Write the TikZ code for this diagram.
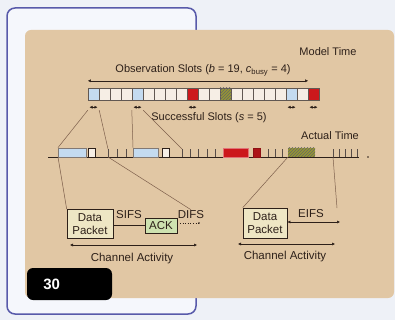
\documentclass[tikz,border=0pt]{standalone}
\usepackage{fontspec}
\setmainfont{Liberation Sans}
\usetikzlibrary{positioning, arrows.meta, patterns}
\definecolor{PageBg}{RGB}{238, 241, 247}
\definecolor{FrameBlue}{RGB}{88, 90, 170}
\definecolor{FrameBg}{RGB}{245, 247, 252}
\definecolor{PanelTan}{RGB}{225, 199, 164}
\definecolor{InkBrown}{RGB}{45, 32, 25}
\definecolor{LineBrown}{RGB}{125, 95, 75}
\definecolor{okBlue}{RGB}{196, 219, 240}
\definecolor{idleWhite}{RGB}{246, 238, 229}
\definecolor{busyRed}{RGB}{204, 24, 28}
\definecolor{errOlive}{RGB}{150, 150, 50}
\definecolor{pktCream}{RGB}{238, 230, 196}
\definecolor{ackGreen}{RGB}{206, 226, 176}

\begin{document}
\begin{tikzpicture}[
    % 1 unit = 1 px of the 395x320 layout, y runs downwards
    x=1pt, y=-1pt,
    slot/.style={draw=InkBrown!75, line width=0.4pt, inner sep=0pt,
                 minimum width=11pt, minimum height=12pt},
    okslot/.style={fill=okBlue},
    idleslot/.style={fill=idleWhite},
    busyslot/.style={fill=busyRed},
    errslot/.style={fill=errOlive,
                    postaction={pattern=north east lines, pattern color=black!60}},
    seg/.style={anchor=south west, inner sep=0pt, minimum height=9pt,
                line width=0.4pt},
    lbl/.style={font=\fontsize{11}{13}\selectfont, text=InkBrown, inner sep=1pt},
    boxlbl/.style={font=\fontsize{11.5}{13}\selectfont, text=InkBrown, inner sep=1pt},
    pkt/.style={draw=InkBrown, line width=0.6pt, fill=pktCream, inner sep=0pt,
                minimum width=46pt, minimum height=29pt, align=center,
                font=\fontsize{11.5}{12.5}\selectfont, text=InkBrown},
    proj/.style={LineBrown, line width=0.5pt},
    dimarr/.style={{Latex[length=3pt,width=3pt]}-{Latex[length=3pt,width=3pt]},
                   InkBrown, line width=0.5pt},
    tickmark/.style={InkBrown!80, line width=0.5pt}
  ]
  \useasboundingbox (0,0) rectangle (395,320);

  % ── Page, blue frame and tan panel ───────────────────────────────────────
  \fill[PageBg] (0,0) rectangle (395,320);
  \draw[FrameBlue, line width=1.5pt, fill=FrameBg, rounded corners=8pt]
        (7,8) rectangle (196,314);
  \fill[PanelTan, rounded corners=6pt] (25,30) rectangle (394,298);

  % ── Model time: observation slots ────────────────────────────────────────
  \node[lbl] (model) at (328, 52) {Model Time};
  \node[lbl] (obs)   at (203, 70)
        {Observation Slots (\textit{b} = 19, \textit{c}\textsubscript{busy} = 4)};

  \foreach \st [count=\i] in {okslot,idleslot,idleslot,idleslot,okslot,
                              idleslot,idleslot,idleslot,idleslot,busyslot,
                              idleslot,idleslot,errslot,idleslot,idleslot,
                              idleslot,idleslot,idleslot,okslot,idleslot,busyslot}
    \node[slot, \st] (c\i) at ({82.5+11*\i}, 94) {};

  \draw[dimarr] ([yshift=7pt]c1.north west) -- ([yshift=7pt]c20.north east);

  % small markers under the successful slots
  \foreach \k in {1,5,10,19,21}
    \draw[dimarr, line width=0.4pt]
          ([xshift=-4pt,yshift=-7pt]c\k.south) -- ([xshift=4pt,yshift=-7pt]c\k.south);

  \node[lbl] (succ) at (209, 118) {Successful Slots (\textit{s} = 5)};

  % ── Actual time line ─────────────────────────────────────────────────────
  \node[lbl] (actual) at (330, 136) {Actual Time};

  \coordinate (t0) at (48, 157);
  \coordinate (t1) at (359, 157);
  \draw[InkBrown, line width=0.6pt] (t0) -- (t1);
  \fill[InkBrown] (368, 157) circle (0.9);

  \node[seg, draw=InkBrown!60, fill=okBlue, minimum width=28pt] (tx1)  at ( 58, 157) {};
  \node[seg, draw=InkBrown, fill=idleWhite, minimum width=7pt]  (ack1) at ( 88, 157) {};
  \node[seg, draw=InkBrown!60, fill=okBlue, minimum width=25pt] (tx2)  at (133, 157) {};
  \node[seg, draw=InkBrown, fill=idleWhite, minimum width=7pt]  (ack2) at (162, 157) {};
  \node[seg, draw=busyRed!60, fill=busyRed, minimum width=25pt] (col1) at (223, 157) {};
  \node[seg, draw=busyRed!70!black, fill=busyRed!85!black, minimum width=7pt] (col2) at (253, 157) {};
  \node[seg, errslot, minimum width=27pt]                       (err)  at (288, 157) {};

  \foreach \x in {108,117,126,182,190,198,207,215,268,275,282,333,339,345,351,357}
    \draw[tickmark] (\x, 157) -- (\x, 149);

  \coordinate (difs1) at (108, 149);
  \coordinate (difs2) at (182, 149);
  \coordinate (difsEnd) at (108, 157);
  \coordinate (eifsEnd) at (333, 157);

  % projections model -> actual
  \draw[proj] ([yshift=-10pt]c1.south west) -- (tx1.north west);
  \draw[proj] ([yshift=-10pt]c1.south east) -- (difs1);
  \draw[proj] ([yshift=-10pt]c5.south west) -- (tx2.north west);
  \draw[proj] ([yshift=-10pt]c5.south east) -- (difs2);

  % ── Channel activity: successful transmission ────────────────────────────
  \node[pkt] (dp1) at (90, 224) {Data\\Packet};
  \node[pkt, fill=ackGreen, minimum width=32pt, minimum height=15pt] (ack) at (161, 225.5) {ACK};
  \node[boxlbl] (sifs) at (129, 215) {SIFS};
  \node[boxlbl] (difs) at (191, 215) {DIFS};

  \draw[InkBrown, line width=0.5pt] (dp1.east |- ack.west) -- (ack.west);
  \coordinate (difsTip) at (199, 223);
  \draw[InkBrown, line width=0.6pt, dotted] (ack.east |- difsTip) -- (difsTip);
  \fill[InkBrown] (difsTip) circle (0.9);

  \coordinate (caL1) at (70, 245);
  \coordinate (caR1) at (197, 245);
  \draw[dimarr] (caL1) -- (caR1);
  \node[boxlbl] (ca1) at (132, 259) {Channel Activity};

  \draw[proj] (tx1.south west) -- (dp1.north west);
  \draw[proj] (difsEnd) -- (difs.north);

  % ── Channel activity: erroneous transmission ─────────────────────────────
  \node[pkt, minimum width=44pt, minimum height=30pt] (dp2) at (265, 223) {Data\\Packet};
  \node[boxlbl] (eifs) at (311, 214) {EIFS};

  \coordinate (eifsTip) at (340, 222);
  \draw[dimarr] (dp2.east |- eifsTip) -- (eifsTip);

  \coordinate (caL2) at (238, 244);
  \coordinate (caR2) at (335, 244);
  \draw[dimarr] (caL2) -- (caR2);
  \node[boxlbl] (ca2) at (285, 257) {Channel Activity};

  \coordinate (eifsTop) at (337, 208);
  \draw[proj] (err.south west) -- (dp2.north west);
  \draw[proj] (eifsEnd) -- (eifsTop);

  % ── Figure number badge ──────────────────────────────────────────────────
  \node[fill=black, rounded corners=6pt, minimum width=85pt, minimum height=32pt,
        inner sep=0pt] (badge) at (69.5, 284) {};
  \node[font=\bfseries\fontsize{15}{16}\selectfont, text=white, anchor=west]
        (badgenum) at ([xshift=13pt]badge.west) {30};

\end{tikzpicture}
\end{document}
